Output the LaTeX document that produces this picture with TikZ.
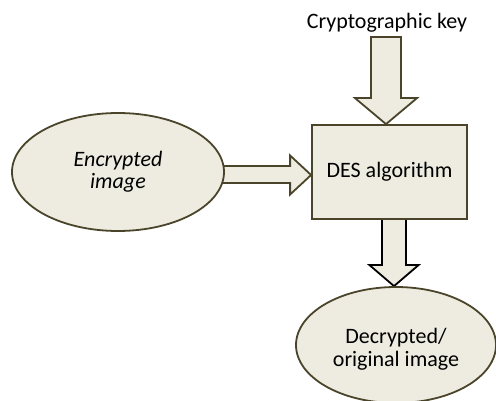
\documentclass[tikz,border=0pt]{standalone}
\usepackage{fontspec}
\setmainfont{Carlito}
\usetikzlibrary{shapes.geometric,calc}
\definecolor{fillc}{HTML}{EEECE1}
\definecolor{linec}{HTML}{4A452A}
\pgfdeclarelayer{background}
\pgfsetlayers{background,main}
\begin{document}
\begin{tikzpicture}[x=1pt,y=-1pt,
  shapebox/.style={draw=linec, fill=fillc, line width=1.8pt, inner sep=0pt,
    font=\fontsize{22}{23}\selectfont, align=center},
  blockarrow/.style={draw=linec, fill=fillc, line width=1.8pt, line join=miter}]
\useasboundingbox (0,0) rectangle (496,401);
\clip (0,0) rectangle (496,401);
\node[shapebox, ellipse, minimum width=212pt, minimum height=118pt,
  font=\fontsize{22}{22}\selectfont\itshape] (enc) at (118,172) {Encrypted\\image};
\node[shapebox, rectangle, minimum width=155pt, minimum height=94pt] (des) at (389.5,172) {DES algorithm};
\node[shapebox, ellipse, minimum width=200pt, minimum height=116pt] (dec) at (396,345)
  {\rule{0pt}{24pt}Decrypted/\\original image};
\node[font=\fontsize{22}{23}\selectfont, inner sep=0pt] (key) at (387,23) {Cryptographic key};
\coordinate (ttip) at ($(des.north)+(-3.5,0)$);
\coordinate (rtip) at ($(des.west)+(0,3)$);
\coordinate (btip) at ($(dec.north)+(-2,0)$);
\begin{pgfonlayer}{background}
\draw[blockarrow] ($(ttip)+(-15,-87)$) -- ($(ttip)+(15,-87)$) -- ($(ttip)+(15,-26)$) -- ($(ttip)+(31,-26)$)
  -- (ttip) -- ($(ttip)+(-31,-26)$) -- ($(ttip)+(-15,-26)$) -- cycle;
\draw[blockarrow] ($(rtip)+(-100,-9)$) -- ($(rtip)+(-21,-9)$) -- ($(rtip)+(-21,-19.5)$) -- (rtip)
  -- ($(rtip)+(-21,19.5)$) -- ($(rtip)+(-21,8)$) -- ($(rtip)+(-100,8)$) -- cycle;
\draw[blockarrow, draw=black] ($(btip)+(-12,-77)$) -- ($(btip)+(12,-77)$) -- ($(btip)+(12,-21)$) -- ($(btip)+(24.5,-21)$)
  -- (btip) -- ($(btip)+(-24.5,-21)$) -- ($(btip)+(-12,-21)$) -- cycle;
\end{pgfonlayer}
\end{tikzpicture}
\end{document}
